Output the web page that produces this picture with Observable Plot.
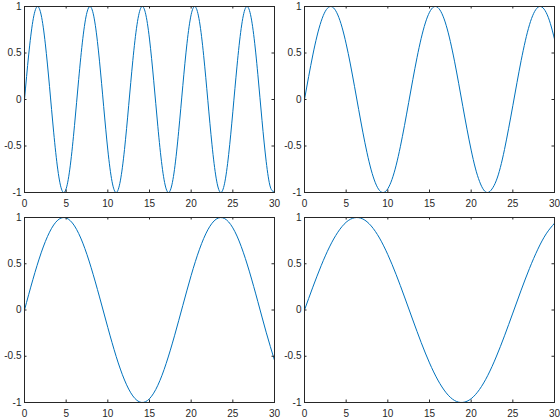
<!DOCTYPE html>
<html><head><meta charset="utf-8">
<script src="https://cdn.jsdelivr.net/npm/d3@7"></script>
<script src="https://cdn.jsdelivr.net/npm/@observablehq/plot@0.6"></script>
<style>
html,body{margin:0;padding:0;background:#fff;}
#wrap{position:relative;width:560px;height:420px;overflow:hidden;}
#wrap > div{position:absolute;}
</style></head><body><div id="wrap"></div>
<script>
// x grids
const xHalf = [0,0.5,1,1.5,2,2.5,3,3.5,4,4.5,5,5.5,6,6.5,7,7.5,8,8.5,9,9.5,10,10.5,11,11.5,12,12.5,13,13.5,14,14.5,15,15.5,16,16.5,17,17.5,18,18.5,19,19.5,20,20.5,21,21.5,22,22.5,23,23.5,24,24.5,25,25.5,26,26.5,27,27.5,28,28.5,29,29.5,30];
const xUnit = [0,1,2,3,4,5,6,7,8,9,10,11,12,13,14,15,16,17,18,19,20,21,22,23,24,25,26,27,28,29,30];

// series values (top-left, top-right, bottom-left, bottom-right)
const seriesTL = [0,0.479,0.841,0.997,0.909,0.598,0.141,-0.351,-0.757,-0.978,-0.959,-0.706,-0.279,0.215,0.657,0.938,0.989,0.798,0.412,-0.075,-0.544,-0.880,-1.000,-0.875,-0.537,-0.066,0.420,0.804,0.991,0.935,0.650,0.207,-0.288,-0.712,-0.961,-0.976,-0.751,-0.342,0.150,0.605,0.913,0.997,0.837,0.472,-0.009,-0.487,-0.846,-0.998,-0.906,-0.591,-0.132,0.359,0.763,0.980,0.956,0.699,0.271,-0.224,-0.664,-0.941,-0.988];
const seriesTR = [0,0.247,0.479,0.682,0.841,0.949,0.997,0.984,0.909,0.778,0.598,0.382,0.141,-0.108,-0.351,-0.572,-0.757,-0.895,-0.978,-0.999,-0.959,-0.859,-0.706,-0.508,-0.279,-0.033,0.215,0.450,0.657,0.823,0.938,0.995,0.989,0.922,0.798,0.624,0.412,0.174,-0.075,-0.319,-0.544,-0.737,-0.880,-0.972,-1.000,-0.962,-0.875,-0.732,-0.537,-0.309,-0.066,0.183,0.420,0.631,0.804,0.926,0.991,0.994,0.935,0.818,0.650];
const seriesBL = [0,0.327,0.618,0.841,0.972,0.995,0.909,0.723,0.457,0.141,-0.190,-0.502,-0.757,-0.929,-0.999,-0.959,-0.814,-0.578,-0.279,0.050,0.374,0.657,0.867,0.982,0.989,0.888,0.688,0.412,0.091,-0.240,-0.544];
const seriesBR = [0,0.247,0.479,0.682,0.841,0.949,0.997,0.984,0.909,0.778,0.598,0.382,0.141,-0.108,-0.351,-0.572,-0.757,-0.895,-0.978,-0.999,-0.959,-0.859,-0.706,-0.508,-0.279,-0.033,0.215,0.450,0.657,0.823,0.938];

// tick labels
const xTicks = [0,5,10,15,20,25,30];
const yTicks = [-1,-0.5,0,0.5,1];
const yTickLabels = ["-1","-0.5","0","0.5","1"];

// layout (separate from data)
const panels = [
  {x: xHalf, y: seriesTL, left: 0,   top: 0,   mt: 6},
  {x: xHalf, y: seriesTR, left: 280, top: 0,   mt: 6},
  {x: xUnit, y: seriesBL, left: 0,   top: 210, mt: 7},
  {x: xUnit, y: seriesBR, left: 280, top: 210, mt: 7}
];

const W = 280, H = 210, ml = 24, mr = 6, mb = 18, tick = 2.5;
const axisColor = "#262626";
const wrap = document.getElementById("wrap");

for (const p of panels) {
  const innerH = H - p.mt - mb;
  const innerW = W - ml - mr;
  const data = p.x.map((x, i) => ({x, y: p.y[i]}));
  const chart = Plot.plot({
    width: W, height: H,
    marginLeft: ml, marginRight: mr, marginTop: p.mt, marginBottom: mb,
    style: {fontFamily: "'Liberation Sans', Arial, sans-serif", fontSize: "10px", color: axisColor, background: "transparent", overflow: "visible"},
    x: {domain: [0, 30], label: null},
    y: {domain: [-1, 1], label: null},
    marks: [
      Plot.line(data, {x: "x", y: "y", stroke: "#0072BD", strokeWidth: 1, curve: "natural", clip: true}),
      Plot.tickX(xTicks, {x: d => d, stroke: axisColor, insetTop: innerH - tick}),
      Plot.tickX(xTicks, {x: d => d, stroke: axisColor, insetBottom: innerH - tick}),
      Plot.tickY(yTicks, {y: d => d, stroke: axisColor, insetRight: innerW - tick}),
      Plot.tickY(yTicks, {y: d => d, stroke: axisColor, insetLeft: innerW - tick}),
      Plot.axisX({ticks: xTicks, tickSize: 0, tickPadding: 7, label: null, tickFormat: d => String(d)}),
      Plot.axisY({ticks: yTicks, tickSize: 0, tickPadding: 3, label: null, tickFormat: d => yTickLabels[yTicks.indexOf(d)]}),
      Plot.frame({stroke: axisColor})
    ]
  });
  const holder = document.createElement("div");
  holder.style.left = p.left + "px";
  holder.style.top = p.top + "px";
  holder.appendChild(chart);
  wrap.appendChild(holder);
}
</script>
</body></html>
